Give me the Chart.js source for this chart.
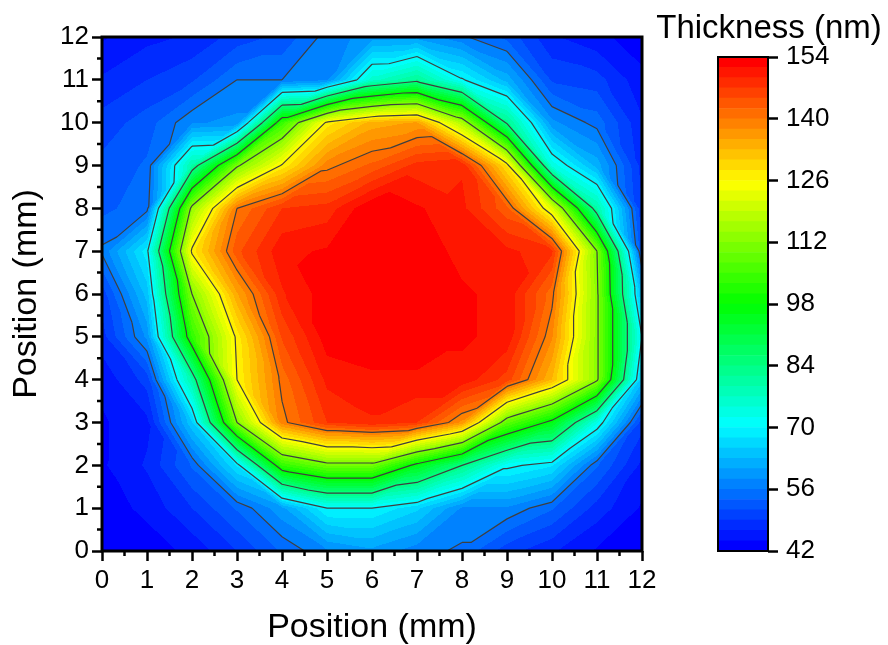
<!DOCTYPE html>
<html>
<head>
<meta charset="utf-8">
<script src="https://cdn.jsdelivr.net/npm/chart.js@4.4.1/dist/chart.umd.min.js"></script>
<style>
  body { margin: 0; background: #fff; }
  #wrap { position: relative; width: 888px; height: 645px; }
  #mapChart { position: absolute; left: 0; top: 0; }
  #barChart { position: absolute; left: 650px; top: 0; }
</style>
</head>
<body>
<div id="wrap">
  <canvas id="mapChart" width="888" height="645"></canvas>
  <canvas id="barChart" width="238" height="645"></canvas>
</div>
<script>
// grid positions (mm)
const xPos = [0, 1, 2, 3, 4, 5, 6, 7, 8, 9, 10, 11, 12];
const yPos = [0, 1, 2, 3, 4, 5, 6, 7, 8, 9, 10, 11, 12];

// thickness (nm), one row per y position, left to right in x
const rowY0  = [42, 43, 45, 49, 54, 58, 60, 57, 55.5, 50, 47, 44, 42];
const rowY1  = [43, 45, 49, 54, 60, 70, 70, 66, 58, 58, 54, 48, 44];
const rowY2  = [44, 47, 54, 68, 103, 110, 110, 96, 84, 71, 68, 54, 46];
const rowY3  = [44, 46, 65, 112, 139, 147, 149, 147, 137, 108, 96, 73, 50];
const rowY4  = [45, 50, 80, 126, 141, 150, 151, 151, 151, 146, 133, 113, 64];
const rowY5  = [48, 59, 103, 127, 145, 153, 154, 154, 152, 151, 138, 113, 70];
const rowY6  = [50, 64, 112, 135, 149, 153, 154, 154, 152, 151, 141, 113, 62];
const rowY7  = [56.5, 69, 127, 144, 151, 152, 154, 153, 151, 150, 147.6, 112, 52];
const rowY8  = [53, 55, 114, 140, 147, 148, 154, 152, 150, 143, 122, 80, 49];
const rowY9  = [52, 54, 80, 111, 126.5, 139, 143, 148, 149, 128, 74, 62, 48];
const rowY10 = [50, 52.5, 58, 59, 103.5, 127, 134, 135.7, 116.6, 83, 59, 55, 47];
const rowY11 = [47, 49, 51, 56, 56, 58, 76, 82, 70.5, 62, 51, 50, 45];
const rowY12 = [44, 46, 47, 50, 52, 57, 59.5, 60, 56.5, 53, 47, 45, 43];
const thickness = [rowY0, rowY1, rowY2, rowY3, rowY4, rowY5, rowY6,
                   rowY7, rowY8, rowY9, rowY10, rowY11, rowY12];

// colour scale
const zMin = 42;
const zMax = 154;
const bandCount = 48;
const colorbarTicks = [42, 56, 70, 84, 98, 112, 126, 140, 154];
const lineLevels = [56, 70, 84, 98, 112, 126, 140];

const FONT = "'Liberation Sans', Arial, sans-serif";
const bandStep = (zMax - zMin) / bandCount;

function rainbow(t) {
    const s = t * 4;
    const seg = Math.min(3, Math.floor(s));
    const f = s - seg;
    if (seg === 0) return [0, Math.round(255 * f), 255];
    if (seg === 1) return [0, 255, Math.round(255 * (1 - f))];
    if (seg === 2) return [Math.round(255 * f), 255, 0];
    return [255, Math.round(255 * (1 - f)), 0];
}

const bandColors = [];
for (let k = 0; k < bandCount; k++) bandColors.push(rainbow(k / (bandCount - 1)));

function bandOf(v) {
    const k = Math.floor((v - zMin) / bandStep);
    return Math.max(0, Math.min(bandCount - 1, k));
}

// split each cell along the diagonal whose two corners differ least
function useSlash(i, j) {
    const d1 = Math.abs(thickness[j][i] - thickness[j + 1][i + 1]);
    const d2 = Math.abs(thickness[j][i + 1] - thickness[j + 1][i]);
    return d1 <= d2;
}

// linear interpolation on the triangles
function valueAt(vx, vy) {
    const i = Math.min(xPos.length - 2, Math.max(0, Math.floor(vx)));
    const j = Math.min(yPos.length - 2, Math.max(0, Math.floor(vy)));
    const fx = (vx - xPos[i]) / (xPos[i + 1] - xPos[i]);
    const fy = (vy - yPos[j]) / (yPos[j + 1] - yPos[j]);
    const z00 = thickness[j][i], z10 = thickness[j][i + 1];
    const z01 = thickness[j + 1][i], z11 = thickness[j + 1][i + 1];
    if (useSlash(i, j)) {
        if (fx >= fy) return z00 + fx * (z10 - z00) + fy * (z11 - z10);
        return z00 + fy * (z01 - z00) + fx * (z11 - z01);
    }
    if (fx + fy <= 1) return z00 + fx * (z10 - z00) + fy * (z01 - z00);
    return z11 + (1 - fx) * (z01 - z11) + (1 - fy) * (z10 - z11);
}

function crossing(tri, level) {
    const pts = [];
    for (let e = 0; e < 3; e++) {
        const a = tri[e], b = tri[(e + 1) % 3];
        if ((a[2] < level) !== (b[2] < level)) {
            const t = (level - a[2]) / (b[2] - a[2]);
            pts.push([a[0] + t * (b[0] - a[0]), a[1] + t * (b[1] - a[1])]);
        }
    }
    return pts.length === 2 ? pts : null;
}

const contourPlugin = {
    id: 'contour',
    beforeDatasetsDraw(chart) {
        const { ctx, chartArea: a, scales: { x, y } } = chart;
        const w = Math.round(a.right - a.left);
        const h = Math.round(a.bottom - a.top);
        const off = document.createElement('canvas');
        off.width = w;
        off.height = h;
        const octx = off.getContext('2d');
        const img = octx.createImageData(w, h);
        for (let py = 0; py < h; py++) {
            const vy = y.getValueForPixel(a.top + py + 0.5);
            for (let px = 0; px < w; px++) {
                const vx = x.getValueForPixel(a.left + px + 0.5);
                const c = bandColors[bandOf(valueAt(vx, vy))];
                const p = (py * w + px) * 4;
                img.data[p] = c[0];
                img.data[p + 1] = c[1];
                img.data[p + 2] = c[2];
                img.data[p + 3] = 255;
            }
        }
        octx.putImageData(img, 0, 0);
        ctx.drawImage(off, a.left, a.top);

        // contour lines
        ctx.save();
        ctx.beginPath();
        ctx.rect(a.left, a.top, a.right - a.left, a.bottom - a.top);
        ctx.clip();
        ctx.strokeStyle = '#3f3f3f';
        ctx.lineWidth = 1.2;
        ctx.beginPath();
        for (let j = 0; j < yPos.length - 1; j++) {
            for (let i = 0; i < xPos.length - 1; i++) {
                const p00 = [xPos[i], yPos[j], thickness[j][i]];
                const p10 = [xPos[i + 1], yPos[j], thickness[j][i + 1]];
                const p01 = [xPos[i], yPos[j + 1], thickness[j + 1][i]];
                const p11 = [xPos[i + 1], yPos[j + 1], thickness[j + 1][i + 1]];
                const tris = useSlash(i, j)
                    ? [[p00, p10, p11], [p00, p11, p01]]
                    : [[p00, p10, p01], [p10, p11, p01]];
                tris.forEach(tri => {
                    lineLevels.forEach(level => {
                        const seg = crossing(tri, level);
                        if (!seg) return;
                        ctx.moveTo(x.getPixelForValue(seg[0][0]), y.getPixelForValue(seg[0][1]));
                        ctx.lineTo(x.getPixelForValue(seg[1][0]), y.getPixelForValue(seg[1][1]));
                    });
                });
            }
        }
        ctx.stroke();
        ctx.restore();
    },
    afterDraw(chart) {
        const { ctx, chartArea: a, scales: { x, y } } = chart;
        ctx.save();
        ctx.strokeStyle = '#000';
        ctx.lineWidth = 2.5;
        ctx.beginPath();
        for (let v = 0.5; v < 12; v += 1) {
            const px = x.getPixelForValue(v);
            ctx.moveTo(px, a.bottom);
            ctx.lineTo(px, a.bottom + 5);
            const py = y.getPixelForValue(v);
            ctx.moveTo(a.left, py);
            ctx.lineTo(a.left - 5, py);
        }
        ctx.stroke();
        ctx.lineWidth = 3;
        ctx.strokeRect(a.left, a.top, a.right - a.left, a.bottom - a.top);
        ctx.restore();
    }
};

const gridPoints = [];
yPos.forEach((yv, j) => xPos.forEach((xv, i) => gridPoints.push({ x: xv, y: yv, v: thickness[j][i] })));

const axisTickFont = { family: FONT, size: 26 };
const axisTitleFont = { family: FONT, size: 34, lineHeight: 1 };

new Chart(document.getElementById('mapChart'), {
    type: 'scatter',
    data: {
        datasets: [{
            label: 'Thickness (nm)',
            data: gridPoints,
            pointRadius: 0
        }]
    },
    options: {
        responsive: false,
        animation: false,
        layout: { padding: { left: 0, top: 37, right: 246, bottom: 0 } },
        plugins: {
            legend: { display: false },
            tooltip: { enabled: false }
        },
        scales: {
            x: {
                type: 'linear',
                min: 0,
                max: 12,
                afterFit: (scale) => { scale.height = 94; },
                ticks: { stepSize: 1, color: '#000', font: axisTickFont, padding: 4, maxRotation: 0 },
                grid: { drawOnChartArea: false, tickLength: 10, tickWidth: 2.5, tickColor: '#000' },
                border: { display: false },
                title: { display: true, text: 'Position (mm)', color: '#000', font: axisTitleFont, padding: { top: 0, bottom: 0 } }
            },
            y: {
                type: 'linear',
                min: 0,
                max: 12,
                afterFit: (scale) => { scale.width = 102; },
                ticks: { stepSize: 1, color: '#000', font: axisTickFont, padding: 3 },
                grid: { drawOnChartArea: false, tickLength: 10, tickWidth: 2.5, tickColor: '#000' },
                border: { display: false },
                title: { display: true, text: 'Position (mm)', color: '#000', font: axisTitleFont, padding: { top: 10, bottom: 0 } }
            }
        }
    },
    plugins: [contourPlugin]
});

// colour bar: one floating bar per colour band
const bandDatasets = bandColors.map((c, k) => ({
    data: [[zMin + k * bandStep, zMin + (k + 1) * bandStep]],
    backgroundColor: `rgb(${c[0]},${c[1]},${c[2]})`,
    borderWidth: 0,
    barPercentage: 1,
    categoryPercentage: 1,
    grouped: false,
    yAxisID: 'y'
}));

const barFrame = {
    id: 'barFrame',
    afterDraw(chart) {
        const { ctx, chartArea: a } = chart;
        ctx.save();
        ctx.strokeStyle = '#000';
        ctx.lineWidth = 2;
        ctx.strokeRect(a.left, a.top, a.right - a.left, a.bottom - a.top);
        ctx.restore();
    }
};

new Chart(document.getElementById('barChart'), {
    type: 'bar',
    data: { labels: [''], datasets: bandDatasets },
    options: {
        responsive: false,
        animation: false,
        layout: { padding: { left: 0, top: 0, right: 0, bottom: 94 } },
        plugins: {
            legend: { display: false },
            tooltip: { enabled: false },
            title: {
                display: true,
                text: 'Thickness (nm)',
                color: '#000',
                font: { family: FONT, size: 33, weight: 'normal', lineHeight: 1 },
                padding: { top: 12, bottom: 12 }
            }
        },
        scales: {
            x: { display: false },
            y: {
                position: 'right',
                min: zMin,
                max: zMax,
                afterFit: (scale) => { scale.width = 120; },
                afterBuildTicks: (scale) => { scale.ticks = colorbarTicks.map(v => ({ value: v })); },
                ticks: { color: '#000', font: { family: FONT, size: 26 }, padding: 8 },
                grid: { drawOnChartArea: false, tickLength: 10, tickWidth: 2.5, tickColor: '#000' },
                border: { display: false }
            },
            spacer: {
                type: 'linear',
                position: 'left',
                min: zMin,
                max: zMax,
                afterFit: (scale) => { scale.width = 68; },
                ticks: { display: false },
                grid: { display: false },
                border: { display: false }
            }
        }
    },
    plugins: [barFrame]
});
</script>
</body>
</html>
